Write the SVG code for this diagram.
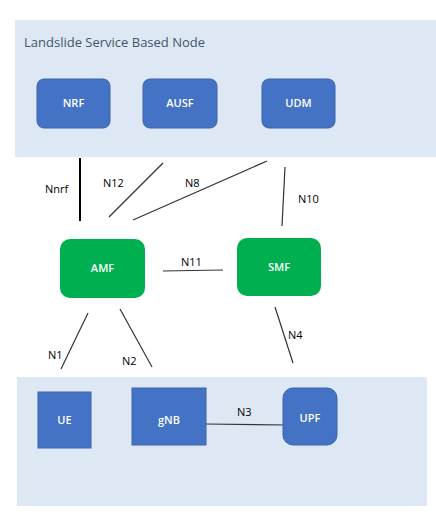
<svg xmlns="http://www.w3.org/2000/svg" width="436" height="517" viewBox="0 0 436 517">
<style>
.panel{fill:#dee8f5}
.blue{fill:#4472c4;stroke:#3a64ad;stroke-width:1}
.green{fill:#00b050}
.nl{font-family:"Open Sans","Liberation Sans",sans-serif;font-size:11px;fill:#ffffff;text-anchor:middle;font-weight:600}
.ll{font-family:"Open Sans","Liberation Sans",sans-serif;font-size:11px;fill:#000000}
.ln{stroke:#333333;stroke-width:1.2;fill:none}
</style>
<rect x="0" y="0" width="436" height="517" fill="#ffffff"/>
<g id="sbn-panel">
<rect class="panel" x="15" y="20" width="421" height="137"/>
<text x="24" y="47" font-family="'Open Sans','Liberation Sans',sans-serif" font-size="13" fill="#44546a">Landslide Service Based Node</text>
</g>
<g id="ran-panel">
<rect class="panel" x="17" y="377" width="410" height="129"/>
</g>
<g id="connectors">
<line x1="80" y1="158" x2="80" y2="221" stroke="#000" stroke-width="2"/>
<text class="ll" x="45" y="193">Nnrf</text>
<line class="ln" x1="163" y1="163" x2="109" y2="217"/>
<text class="ll" x="103" y="187">N12</text>
<line class="ln" x1="267" y1="161" x2="133" y2="220"/>
<text class="ll" x="185" y="187">N8</text>
<line class="ln" x1="285" y1="167" x2="282" y2="226"/>
<text class="ll" x="298" y="203">N10</text>
<line class="ln" x1="163" y1="271" x2="223" y2="270"/>
<text class="ll" x="181" y="266">N11</text>
<line class="ln" x1="88" y1="313" x2="61" y2="369"/>
<text class="ll" x="48" y="359">N1</text>
<line class="ln" x1="120" y1="309" x2="152" y2="367"/>
<text class="ll" x="122" y="365">N2</text>
<line class="ln" x1="275" y1="307" x2="293" y2="363"/>
<text class="ll" x="288" y="339">N4</text>
<line class="ln" x1="206" y1="424" x2="286" y2="425"/>
<text class="ll" x="237" y="416">N3</text>
</g>
<g id="NRF"><rect class="blue" x="37" y="79" width="73" height="49" rx="7"/><text class="nl" x="73.5" y="107">NRF</text></g>
<g id="AUSF"><rect class="blue" x="143" y="79" width="74" height="49" rx="7"/><text class="nl" x="180" y="107">AUSF</text></g>
<g id="UDM"><rect class="blue" x="262" y="79" width="73" height="49" rx="7"/><text class="nl" x="298.5" y="107">UDM</text></g>
<g id="AMF"><rect class="green" x="60" y="239" width="85" height="59" rx="10"/><text class="nl" x="102.5" y="272">AMF</text></g>
<g id="SMF"><rect class="green" x="237" y="238" width="84" height="58" rx="10"/><text class="nl" x="279" y="271">SMF</text></g>
<g id="UE"><rect class="blue" x="38" y="392" width="53" height="56"/><text class="nl" x="64.5" y="424">UE</text></g>
<g id="gNB"><rect class="blue" x="132" y="388" width="74" height="57"/><text class="nl" x="169" y="424">gNB</text></g>
<g id="UPF"><rect class="blue" x="283" y="388" width="54" height="57" rx="10"/><text class="nl" x="310" y="422">UPF</text></g>
</svg>
